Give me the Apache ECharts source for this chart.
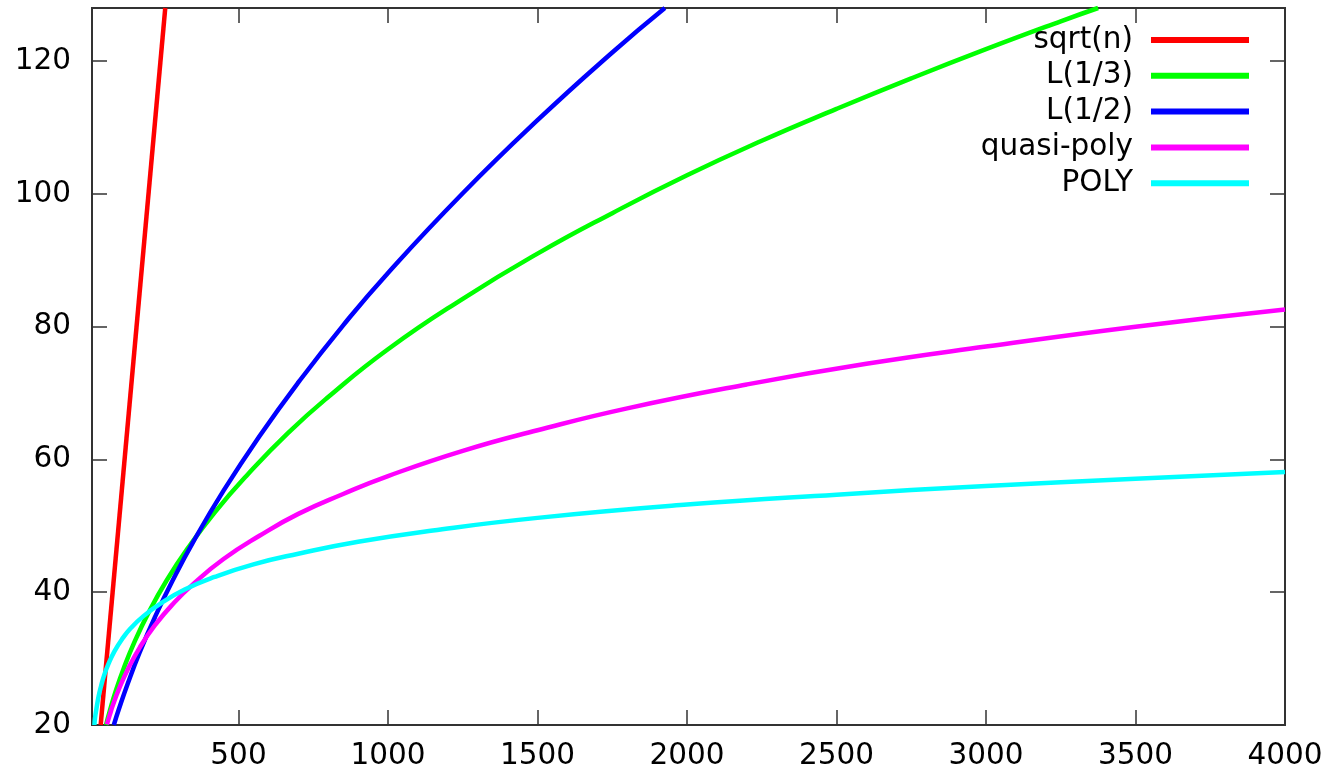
<!DOCTYPE html>
<html>
<head>
<meta charset="utf-8">
<script src="https://cdn.jsdelivr.net/npm/echarts@6/dist/echarts.min.js"></script>
<style>
  html, body { margin: 0; padding: 0; background: #fff; }
  #chart { width: 1336px; height: 776px; }
</style>
</head>
<body>
<div id="chart"></div>
<script>
// ---- data ----
const xTicks = [500, 1000, 1500, 2000, 2500, 3000, 3500, 4000];
const yTicks = [20, 40, 60, 80, 100, 120];

const seriesNames = ['sqrt(n)', 'L(1/3)', 'L(1/2)', 'quasi-poly', 'POLY'];
const seriesColors = ['#ff0000', '#00ff00', '#0000ff', '#ff00ff', '#00ffff'];

const sqrtN_x = [39, 255];
const sqrtN_y = [20, 128];

const L13_x = [57, 70, 90, 115, 150, 200, 260, 330, 420, 530, 666, 800, 1000, 1250, 1500, 1750, 2000, 2250, 2500, 2750, 3000, 3250, 3375];
const L13_y = [20.0, 22.2, 25.2, 28.4, 32.3, 37.0, 41.8, 46.6, 52.0, 57.7, 64.0, 69.4, 76.6, 84.2, 91.0, 97.1, 102.8, 108.0, 112.8, 117.4, 121.8, 126.0, 128.0];

const L12_x = [83, 100, 130, 170, 220, 280, 350, 450, 570, 700, 850, 1000, 1250, 1500, 1750, 1926];
const L12_y = [20.0, 22.4, 26.3, 31.0, 36.2, 41.8, 47.7, 55.3, 63.5, 71.6, 80.2, 88.1, 100.1, 111.1, 121.3, 128.0];

const quasi_x = [60, 70, 80, 100, 130, 170, 220, 280, 350, 450, 570, 700, 850, 1000, 1250, 1500, 1800, 2200, 2600, 3000, 3500, 4000];
const quasi_y = [20.1, 21.6, 23.0, 25.4, 28.4, 31.7, 35.0, 38.2, 41.3, 45.0, 48.5, 51.8, 54.8, 57.5, 61.3, 64.4, 67.7, 71.3, 74.4, 77.0, 80.0, 82.6];

const poly_x = [18, 20, 25, 32, 40, 50, 65, 85, 110, 140, 182, 240, 320, 420, 550, 700, 900, 1150, 1500, 2000, 2500, 3000, 3500, 4000];
const poly_y = [20.0, 21.0, 22.5, 24.3, 25.8, 27.4, 29.2, 31.1, 32.9, 34.6, 36.4, 38.3, 40.4, 42.3, 44.2, 45.8, 47.6, 49.3, 51.2, 53.2, 54.7, 56.0, 57.1, 58.1];

// ---- build ----
const zip = (xs, ys) => xs.map((x, i) => [x, ys[i]]);
const allData = [
  zip(sqrtN_x, sqrtN_y),
  zip(L13_x, L13_y),
  zip(L12_x, L12_y),
  zip(quasi_x, quasi_y),
  zip(poly_x, poly_y)
];

const FONT = 'DejaVu Sans';
const FS = 29.5;
const tickStyle = { color: '#333', width: 1.5 };

const chart = echarts.init(document.getElementById('chart'), null, { renderer: 'canvas' });
chart.setOption({
  animation: false,
  backgroundColor: '#ffffff',
  grid: {
    left: 92, right: 51, top: 8, bottom: 51,
    show: true, borderColor: '#333', borderWidth: 2, backgroundColor: 'transparent'
  },
  legend: {
    orient: 'vertical',
    align: 'right',
    right: 87,
    top: 25,
    padding: 0,
    itemGap: 5.8,
    itemWidth: 98,
    itemHeight: 6,
    icon: 'rect',
    selectedMode: false,
    data: seriesNames,
    textStyle: {
      fontFamily: FONT, fontSize: FS, color: '#000', lineHeight: 30,
      padding: [0, 13, 0, 0]
    }
  },
  xAxis: [
    {
      type: 'value', min: 10, max: 4000, position: 'bottom',
      axisLine: { show: false },
      splitLine: { show: false },
      axisTick: { show: true, inside: true, length: 15, customValues: xTicks, lineStyle: tickStyle },
      axisLabel: {
        customValues: xTicks, fontFamily: FONT, fontSize: FS, color: '#000', margin: 16,
        formatter: v => String(v)
      }
    },
    {
      type: 'value', min: 10, max: 4000, position: 'top',
      axisLine: { show: false },
      splitLine: { show: false },
      axisTick: { show: true, inside: true, length: 15, customValues: xTicks, lineStyle: tickStyle },
      axisLabel: { show: false }
    }
  ],
  yAxis: [
    {
      type: 'value', min: 20, max: 128, position: 'left',
      axisLine: { show: false },
      splitLine: { show: false },
      axisTick: { show: true, inside: true, length: 15, customValues: yTicks, lineStyle: tickStyle },
      axisLabel: {
        customValues: yTicks, fontFamily: FONT, fontSize: FS, color: '#000', margin: 21,
        formatter: v => String(v)
      }
    },
    {
      type: 'value', min: 20, max: 128, position: 'right',
      axisLine: { show: false },
      splitLine: { show: false },
      axisTick: { show: true, inside: true, length: 15, customValues: yTicks, lineStyle: tickStyle },
      axisLabel: { show: false }
    }
  ],
  series: seriesNames.map((name, i) => ({
    name: name,
    type: 'line',
    xAxisIndex: 0,
    yAxisIndex: 0,
    data: allData[i],
    showSymbol: false,
    symbol: 'none',
    smooth: 0.5,
    clip: true,
    color: seriesColors[i],
    lineStyle: { color: seriesColors[i], width: 4.5 },
    emphasis: { disabled: true }
  }))
});
</script>
</body>
</html>
